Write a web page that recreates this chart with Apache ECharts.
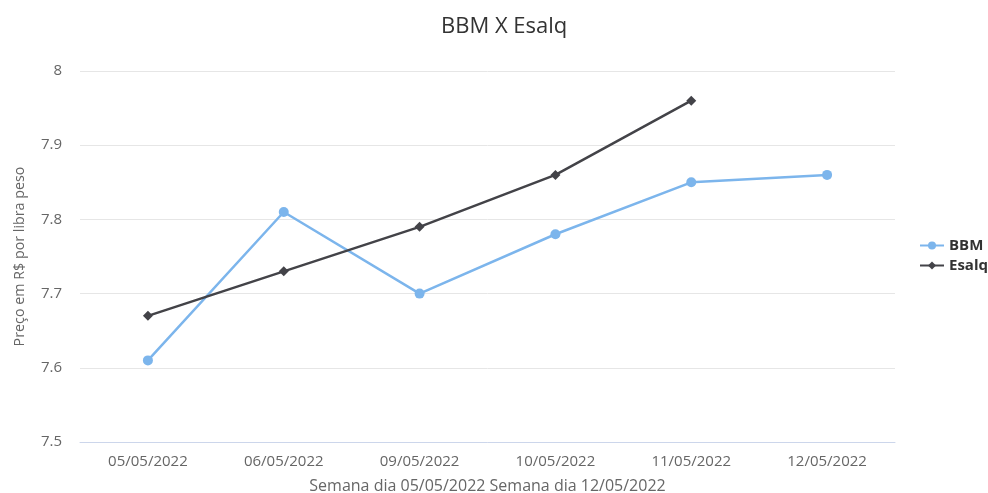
<!DOCTYPE html>
<html>
<head>
<meta charset="utf-8">
<script src="https://cdn.jsdelivr.net/npm/echarts@6/dist/echarts.min.js"></script>
<style>
  html, body { margin: 0; padding: 0; background: #fff; }
  #chart { width: 988px; height: 493px; }
</style>
</head>
<body>
<div id="chart"></div>
<script>
// dados do gráfico
const categories = ['05/05/2022', '06/05/2022', '09/05/2022', '10/05/2022', '11/05/2022', '12/05/2022']
const bbm = [7.61, 7.81, 7.70, 7.78, 7.85, 7.86]
const esalq = [7.67, 7.73, 7.79, 7.86, 7.96, null]
const yTicks = [7.5, 7.6, 7.7, 7.8, 7.9, 8]

const chart = echarts.init(document.getElementById('chart'))
const font = '"Open Sans", "DejaVu Sans", sans-serif'

const option = {
  animation: false,
  title: {
    text: 'BBM X Esalq',
    left: 436,
    top: 11,
    textStyle: { color: '#333', fontSize: 22, fontWeight: 'normal', fontFamily: font }
  },
  legend: {
    orient: 'vertical',
    left: 919,
    top: 238,
    padding: 0,
    itemWidth: 24,
    itemHeight: 10,
    itemGap: 5,
    textStyle: { color: '#333', fontSize: 15, fontWeight: 'bold', fontFamily: font },
    data: ['BBM', 'Esalq']
  },
  grid: { left: 80, right: 93, top: 71, bottom: 51, outerBoundsMode: 'none' },
  xAxis: {
    type: 'category',
    data: categories,
    name: 'Semana dia 05/05/2022 Semana dia 12/05/2022',
    nameLocation: 'middle',
    nameGap: 36,
    nameTextStyle: { color: '#666', fontSize: 16, fontFamily: font },
    axisLine: { lineStyle: { color: '#ccd6eb' } },
    axisTick: { show: false },
    axisLabel: { color: '#666', fontSize: 15, margin: 12, fontFamily: font }
  },
  yAxis: {
    type: 'value',
    min: yTicks[0],
    max: yTicks[yTicks.length - 1],
    interval: 0.1,
    name: 'Preço em R$ por libra peso',
    nameLocation: 'middle',
    nameGap: 53,
    nameTextStyle: { color: '#666', fontSize: 14.3, fontFamily: font },
    axisLine: { show: false },
    axisTick: { show: false },
    splitLine: { lineStyle: { color: '#e6e6e6' } },
    axisLabel: {
      color: '#666', fontSize: 15, margin: 18, fontFamily: font,
      formatter: v => String(Math.round(v * 10) / 10)
    }
  },
  series: [
    {
      name: 'BBM',
      type: 'line',
      data: bbm,
      symbol: 'circle',
      symbolSize: 10,
      lineStyle: { width: 2.5, color: '#7cb5ec' },
      itemStyle: { color: '#7cb5ec' }
    },
    {
      name: 'Esalq',
      type: 'line',
      data: esalq,
      symbol: 'diamond',
      symbolSize: 10,
      lineStyle: { width: 2.5, color: '#434348' },
      itemStyle: { color: '#434348' }
    }
  ]
}

chart.setOption(option)
</script>
</body>
</html>
